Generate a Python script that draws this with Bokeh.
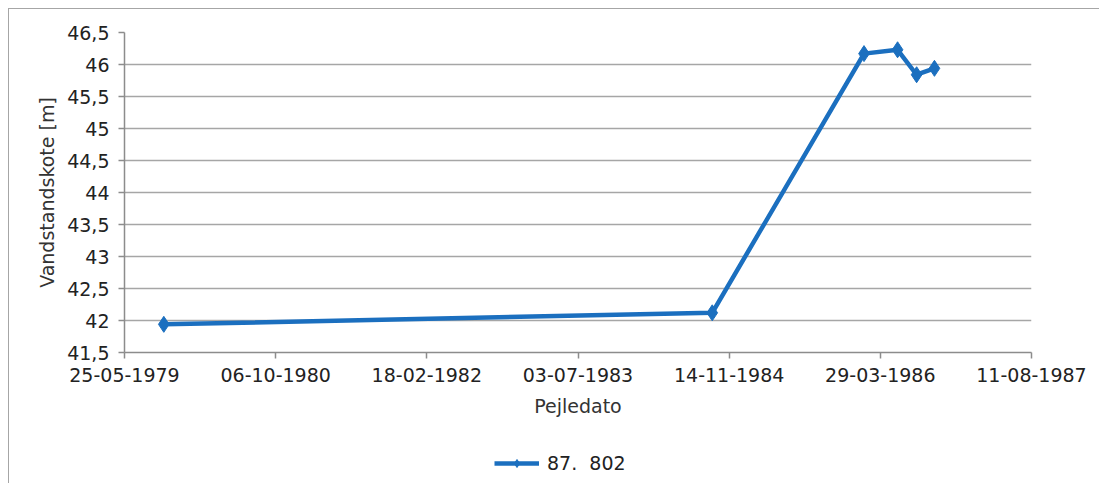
from datetime import datetime
from bokeh.plotting import figure
from bokeh.layouts import column
from bokeh.models import FixedTicker, DatetimeTickFormatter, CustomJSTickFormatter, Legend, Range1d
from bokeh.embed import file_html
from bokeh.resources import INLINE

# ---- data ----
dates = ["02-10-1979", "19-09-1984", "03-02-1986", "25-05-1986", "27-07-1986", "24-09-1986"]
levels = [41.94, 42.12, 46.17, 46.23, 45.84, 45.94]
series_name = "87.  802"
x_tick_labels = ["25-05-1979", "06-10-1980", "18-02-1982", "03-07-1983",
                 "14-11-1984", "29-03-1986", "11-08-1987"]
y_ticks = [41.5, 42, 42.5, 43, 43.5, 44, 44.5, 45, 45.5, 46, 46.5]
x_label = "Pejledato"
y_label = "Vandstandskote [m]"

FONT = "DejaVu Sans"
FS = "19px"
BLUE = "#1b6fbf"
GRID = "#a6a6a6"
W = 1090

xd = [datetime.strptime(d, "%d-%m-%Y") for d in dates]
xt = [datetime.strptime(d, "%d-%m-%Y") for d in x_tick_labels]
xt_ms = [(t - datetime(1970, 1, 1)).total_seconds() * 1000 for t in xt]

p = figure(width=W, height=418, x_axis_type="datetime",
           output_backend="svg", toolbar_location=None,
           x_range=Range1d(xt[0], xt[-1]), y_range=Range1d(y_ticks[0], y_ticks[-1]),
           min_border_left=115, min_border_right=68, min_border_top=23, min_border_bottom=75)
p.outline_line_color = None
p.background_fill_color = "white"
p.border_fill_color = "white"

# axes
p.xaxis.ticker = FixedTicker(ticks=xt_ms)
p.xaxis.formatter = DatetimeTickFormatter(
    milliseconds="%d-%m-%Y", seconds="%d-%m-%Y", minsec="%d-%m-%Y", minutes="%d-%m-%Y",
    hourmin="%d-%m-%Y", hours="%d-%m-%Y", days="%d-%m-%Y", months="%d-%m-%Y", years="%d-%m-%Y")
p.yaxis.ticker = FixedTicker(ticks=y_ticks)
p.yaxis.formatter = CustomJSTickFormatter(code="return tick.toString().replace('.', ',');")

for ax in (p.xaxis[0], p.yaxis[0]):
    ax.axis_line_color = "#8c8c8c"
    ax.axis_line_width = 1.5
    ax.major_tick_line_color = "#8c8c8c"
    ax.major_tick_line_width = 1.5
    ax.major_tick_out = 6
    ax.major_tick_in = 0
    ax.minor_tick_line_color = None
    ax.major_label_text_font = FONT
    ax.major_label_text_font_size = FS
    ax.major_label_text_color = "#222222"
    ax.axis_label_text_font = FONT
    ax.axis_label_text_font_size = FS
    ax.axis_label_text_font_style = "normal"
    ax.axis_label_text_color = "#333333"

p.xaxis.axis_label = x_label
p.yaxis.axis_label = y_label
p.xaxis.major_label_standoff = 9
p.yaxis.major_label_standoff = 9
p.xaxis.axis_label_standoff = 10
p.yaxis.axis_label_standoff = 6

p.xgrid.grid_line_color = None
p.ygrid.grid_line_color = GRID
p.ygrid.grid_line_width = 1.5

# series
p.line(xd, levels, line_color=BLUE, line_width=4.5)
p.scatter(xd, levels, marker="diamond", size=16, fill_color=BLUE, line_color=BLUE)

# legend strip below the chart (swatch renderers sit outside the visible range)
pl = figure(width=W, height=57, output_backend="svg", toolbar_location=None,
            x_axis_location=None, y_axis_location=None,
            x_range=Range1d(0, 1), y_range=Range1d(0, 1),
            min_border=0, outline_line_color=None)
pl.grid.visible = False
lg_line = pl.line([5, 6], [5, 6], line_color=BLUE, line_width=4.5)
lg_mark = pl.scatter([5], [5], marker="diamond", size=15, fill_color=BLUE, line_color=BLUE)
legend = Legend(items=[(series_name, [lg_line, lg_mark])], location=(370, 10),
                glyph_width=45, glyph_height=20, label_standoff=8, padding=4, margin=0,
                border_line_color=None, background_fill_alpha=0,
                label_text_font=FONT, label_text_font_size=FS, label_text_color="#222222")
pl.add_layout(legend, "center")

layout = column(p, pl, spacing=0,
                styles={"border": "1px solid #a6a6a6", "margin-left": "8px", "margin-top": "8px"})

open("out.html", "w").write(file_html(layout, INLINE))
